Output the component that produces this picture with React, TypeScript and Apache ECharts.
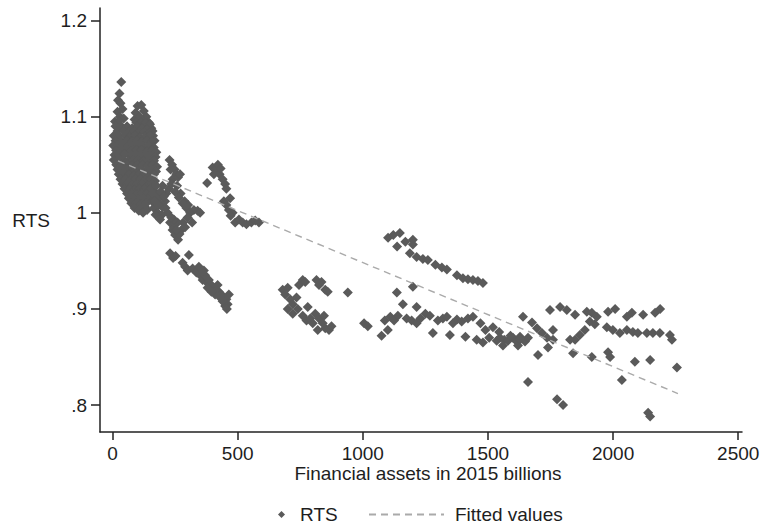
import React, { useEffect, useRef } from "react";
import * as echarts from "echarts";

const xTicks = [0, 500, 1000, 1500, 2000, 2500];
const yTicks = [0.8, 0.9, 1.0, 1.1, 1.2];
const xTitle = "Financial assets in 2015 billions";
const yTitle = "RTS";
const seriesNames = ["RTS", "Fitted values"];

// RTS observations [financial assets, RTS]
const earlyBlob: [number, number][] = [
  [35, 1.136], [28, 1.124], [22, 1.117], [32, 1.114], [40, 1.108], [20, 1.105], [30, 1.1], [45, 1.098],
  [100, 1.111], [115, 1.112], [92, 1.104], [125, 1.106], [135, 1.1], [88, 1.097], [108, 1.1], [145, 1.094], [155, 1.088], [120, 1.095],
  [10, 1.095], [25, 1.095], [95, 1.094], [115, 1.094], [132, 1.093], [150, 1.092],
  [12, 1.09], [35, 1.09], [58, 1.09], [78, 1.088], [98, 1.09], [118, 1.088], [138, 1.087], [160, 1.085],
  [20, 1.085], [45, 1.085], [68, 1.084], [88, 1.085], [108, 1.084], [128, 1.084], [148, 1.083], [162, 1.08],
  [5, 1.08], [25, 1.08], [48, 1.081], [68, 1.079], [90, 1.08], [110, 1.078], [130, 1.079], [150, 1.08], [168, 1.075],
  [12, 1.075], [35, 1.075], [58, 1.075], [78, 1.074], [98, 1.075], [118, 1.074], [138, 1.075], [158, 1.074],
  [3, 1.07], [22, 1.07], [42, 1.071], [62, 1.069], [84, 1.07], [104, 1.07], [124, 1.069], [146, 1.07], [165, 1.068],
  [14, 1.065], [35, 1.065], [55, 1.065], [75, 1.064], [96, 1.065], [116, 1.065], [138, 1.064], [158, 1.065], [175, 1.063],
  [8, 1.06], [28, 1.06], [48, 1.061], [70, 1.059], [90, 1.06], [110, 1.06], [130, 1.059], [150, 1.06], [172, 1.058],
  [5, 1.055], [22, 1.055], [42, 1.055], [62, 1.054], [84, 1.055], [104, 1.055], [124, 1.054], [146, 1.055], [166, 1.054],
  [15, 1.05], [36, 1.05], [58, 1.05], [78, 1.049], [100, 1.05], [120, 1.05], [140, 1.049], [160, 1.05], [178, 1.048],
  [20, 1.045], [38, 1.045], [56, 1.045], [76, 1.044], [96, 1.045], [116, 1.045], [136, 1.044], [156, 1.045], [174, 1.043],
  [25, 1.04], [45, 1.04], [66, 1.04], [86, 1.039], [106, 1.04], [126, 1.04], [146, 1.038], [166, 1.04],
  [32, 1.035], [52, 1.035], [72, 1.034], [92, 1.035], [112, 1.035], [132, 1.034], [152, 1.035], [170, 1.033],
  [40, 1.03], [60, 1.03], [80, 1.029], [100, 1.03], [120, 1.03], [140, 1.028], [160, 1.03],
  [48, 1.025], [68, 1.025], [88, 1.024], [108, 1.025], [128, 1.025], [148, 1.024], [165, 1.023],
  [58, 1.02], [78, 1.02], [98, 1.019], [118, 1.02], [138, 1.02], [155, 1.018],
  [65, 1.015], [85, 1.015], [105, 1.014], [125, 1.015], [145, 1.014],
  [75, 1.01], [95, 1.01], [115, 1.009], [135, 1.01],
  [88, 1.005], [110, 1.005], [130, 1.006],
  [105, 1.002], [122, 1.0], [138, 1.003],
];

const secondClump: [number, number][] = [
  [155, 1.025], [170, 1.02], [185, 1.015], [200, 1.028], [215, 1.02], [165, 1.005], [180, 1.0], [200, 1.006],
  [220, 1.0], [158, 1.012], [190, 1.008], [210, 1.012],
  [160, 1.02], [175, 1.028], [192, 1.022], [205, 1.017], [225, 1.025], [168, 1.012], [182, 1.008], [198, 0.998],
  [212, 1.005], [172, 0.998], [240, 1.035], [258, 1.028], [272, 1.02], [288, 1.012], [302, 1.008], [325, 1.003],
  [235, 1.03], [250, 1.022], [265, 1.016], [280, 1.01], [295, 1.005], [310, 1.0], [340, 1.002], [350, 1.0],
  [190, 0.993], [230, 0.99], [245, 0.985], [260, 0.99], [275, 0.982], [290, 0.985], [250, 0.977], [262, 0.972], [318, 0.99], [240, 0.982],
  [245, 0.993], [268, 0.978], [282, 0.99], [300, 0.995], [235, 0.995], [255, 0.982],
  [228, 1.055], [238, 1.05], [232, 1.045], [248, 1.045], [255, 1.04], [262, 1.037], [270, 1.04],
  [378, 1.031],
  [400, 1.047], [415, 1.045], [421, 1.05], [428, 1.04], [440, 1.035], [450, 1.03], [405, 1.04], [455, 1.025], [432, 1.046],
  [445, 1.012], [455, 1.008], [465, 1.003], [470, 1.015], [480, 1.0],
  [472, 0.997], [490, 0.99], [505, 0.993], [520, 0.99], [535, 0.988], [555, 0.99], [570, 0.992], [585, 0.99],
];

const lowerStrand: [number, number][] = [
  [230, 0.958], [242, 0.953], [252, 0.955], [305, 0.956], [280, 0.948], [290, 0.944], [300, 0.94], [320, 0.942],
  [335, 0.938], [350, 0.935], [360, 0.93], [375, 0.928], [385, 0.93], [395, 0.925], [405, 0.922], [415, 0.92],
  [425, 0.918], [435, 0.915], [445, 0.912], [455, 0.91], [460, 0.905], [450, 0.903], [440, 0.908], [430, 0.912],
  [410, 0.915], [395, 0.918], [380, 0.922], [370, 0.935], [345, 0.944], [365, 0.94], [457, 0.9], [465, 0.915], [420, 0.925],
];

const midCluster: [number, number][] = [
  [680, 0.92], [690, 0.915], [700, 0.922], [710, 0.91], [720, 0.905], [700, 0.9], [735, 0.912], [745, 0.925],
  [760, 0.93], [770, 0.928], [815, 0.93], [825, 0.925], [835, 0.928], [850, 0.92], [860, 0.918], [940, 0.917],
  [740, 0.9], [760, 0.893], [775, 0.888], [790, 0.89], [800, 0.885], [780, 0.902], [810, 0.895], [825, 0.89],
  [840, 0.885], [850, 0.88], [865, 0.878], [875, 0.882], [820, 0.878], [845, 0.893], [720, 0.895],
  [1005, 0.885], [1020, 0.882],
];

const upperStrand: [number, number][] = [
  [1101, 0.974], [1122, 0.977], [1148, 0.979], [1137, 0.965], [1200, 0.972], [1200, 0.967], [1170, 0.97],
  [1188, 0.958], [1215, 0.954], [1240, 0.952], [1260, 0.951], [1290, 0.946], [1316, 0.943], [1336, 0.941],
  [1376, 0.935], [1400, 0.932], [1420, 0.931], [1440, 0.93], [1460, 0.929], [1480, 0.927],
];

const lowerBand: [number, number][] = [
  [1136, 0.917], [1200, 0.923], [1160, 0.905], [1215, 0.902],
  [1075, 0.872], [1088, 0.888], [1100, 0.878], [1110, 0.892], [1125, 0.888], [1140, 0.893], [1175, 0.89],
  [1195, 0.888], [1215, 0.885], [1230, 0.89], [1250, 0.895], [1268, 0.893], [1280, 0.875], [1300, 0.888],
  [1320, 0.89], [1336, 0.892], [1348, 0.873], [1360, 0.885], [1376, 0.889], [1395, 0.887], [1410, 0.871],
  [1420, 0.89], [1440, 0.892], [1455, 0.868], [1470, 0.885], [1480, 0.865], [1490, 0.878], [1505, 0.87],
  [1520, 0.881], [1535, 0.867], [1548, 0.87], [1565, 0.868], [1580, 0.867], [1600, 0.87], [1615, 0.866],
  [1628, 0.871], [1560, 0.862], [1590, 0.872], [1620, 0.862], [1545, 0.876],
  [1640, 0.892], [1676, 0.886], [1696, 0.88], [1716, 0.875], [1736, 0.87], [1760, 0.878], [1760, 0.868],
  [1740, 0.86], [1700, 0.852], [1648, 0.866], [1660, 0.87], [1628, 0.868],
  [1748, 0.899], [1788, 0.902], [1815, 0.899], [1848, 0.894], [1895, 0.897], [1915, 0.896], [1935, 0.892],
  [1907, 0.887], [1927, 0.884], [1980, 0.897], [2008, 0.9], [2055, 0.892], [2075, 0.896], [2120, 0.894],
  [2168, 0.896], [2188, 0.9],
  [1887, 0.878], [1867, 0.873], [1848, 0.868], [1828, 0.868], [1975, 0.881], [1999, 0.878], [2027, 0.875],
  [2055, 0.878], [2079, 0.876], [2099, 0.875], [2135, 0.875], [2159, 0.875], [2187, 0.875], [2227, 0.873], [2235, 0.868],
  [1840, 0.854], [1915, 0.85], [1980, 0.855], [1988, 0.85], [2087, 0.845], [2148, 0.847], [2035, 0.826],
  [2255, 0.839], [1660, 0.824], [1776, 0.806], [1800, 0.8], [2140, 0.792], [2148, 0.788],
];

const rtsPoints: [number, number][] = [
  ...earlyBlob, ...secondClump, ...lowerStrand, ...midCluster, ...upperStrand, ...lowerBand,
];

const fittedPoints: [number, number][] = [[22, 1.054], [2259, 0.812]];

const FONT = "'Liberation Sans', Arial, sans-serif";
const TEXT = "#1e1e1e";
const MARK = "#5a5a5a";
const FIT = "#aaaaaa";

export default function App() {
  const ref = useRef<HTMLDivElement>(null);
  useEffect(() => {
    if (!ref.current) return;
    const chart = echarts.init(ref.current, null, { renderer: "svg" });
    const yFmt = (v: number) => {
      const s = String(Math.round(v * 10) / 10);
      return s.startsWith("0") ? s.slice(1) : s;
    };
    chart.setOption({
      animation: false,
      backgroundColor: "#ffffff",
      textStyle: { fontFamily: FONT },
      grid: { left: 100, right: 22, top: 8, bottom: 97, containLabel: false },
      xAxis: {
        type: "value",
        min: -50,
        max: 2515,
        splitLine: { show: false },
        axisLine: { show: true, onZero: false, lineStyle: { color: "#222", width: 1.5 } },
        axisTick: { show: true, length: 8, customValues: xTicks, lineStyle: { color: "#222", width: 1.5 } },
        axisLabel: {
          customValues: xTicks,
          margin: 12,
          fontSize: 19,
          lineHeight: 19,
          color: TEXT,
          fontFamily: FONT,
          formatter: (v: number) => String(v),
        },
        name: xTitle,
        nameLocation: "middle",
        nameGap: 32,
        nameMoveOverlap: false,
        nameTextStyle: { fontSize: 19, lineHeight: 19, color: TEXT, fontFamily: FONT, padding: [0, 0, 0, 14] },
      },
      yAxis: {
        type: "value",
        min: 0.772,
        max: 1.213,
        splitLine: { show: false },
        axisLine: { show: true, onZero: false, lineStyle: { color: "#222", width: 1.5 } },
        axisTick: { show: true, length: 9, customValues: yTicks, lineStyle: { color: "#222", width: 1.5 } },
        axisLabel: { customValues: yTicks, margin: 13, fontSize: 19, color: TEXT, fontFamily: FONT, formatter: yFmt },
        name: yTitle,
        nameLocation: "middle",
        nameRotate: 0,
        nameGap: 50,
        nameMoveOverlap: false,
        nameTextStyle: { fontSize: 19, color: TEXT, fontFamily: FONT, padding: [0, 0, 14, 0] },
      },
      legend: [
        {
          data: [seriesNames[0]],
          left: 278,
          top: 505,
          padding: 0,
          itemWidth: 7,
          itemHeight: 7,
          textStyle: { fontSize: 19, color: TEXT, fontFamily: FONT, padding: [0, 0, 0, 10] },
        },
        {
          data: [seriesNames[1]],
          left: 368,
          top: 505,
          padding: 0,
          itemWidth: 75,
          itemHeight: 14,
          itemStyle: { opacity: 0 },
          textStyle: { fontSize: 19, color: TEXT, fontFamily: FONT, padding: [0, 0, 0, 6] },
        },
      ],
      series: [
        {
          name: seriesNames[0],
          type: "scatter",
          symbol: "diamond",
          symbolSize: 10,
          itemStyle: { color: MARK, opacity: 1 },
          data: rtsPoints,
          z: 2,
        },
        {
          name: seriesNames[1],
          type: "line",
          symbol: "none",
          showSymbol: false,
          lineStyle: { color: FIT, width: 1.4, type: [7, 5] },
          itemStyle: { color: FIT },
          data: fittedPoints,
          z: 3,
        },
      ],
    });
    return () => chart.dispose();
  }, []);
  return (
    <div
      ref={ref}
      style={{ position: "fixed", left: 0, top: 0, width: 764, height: 529, background: "#fff" }}
    />
  );
}
